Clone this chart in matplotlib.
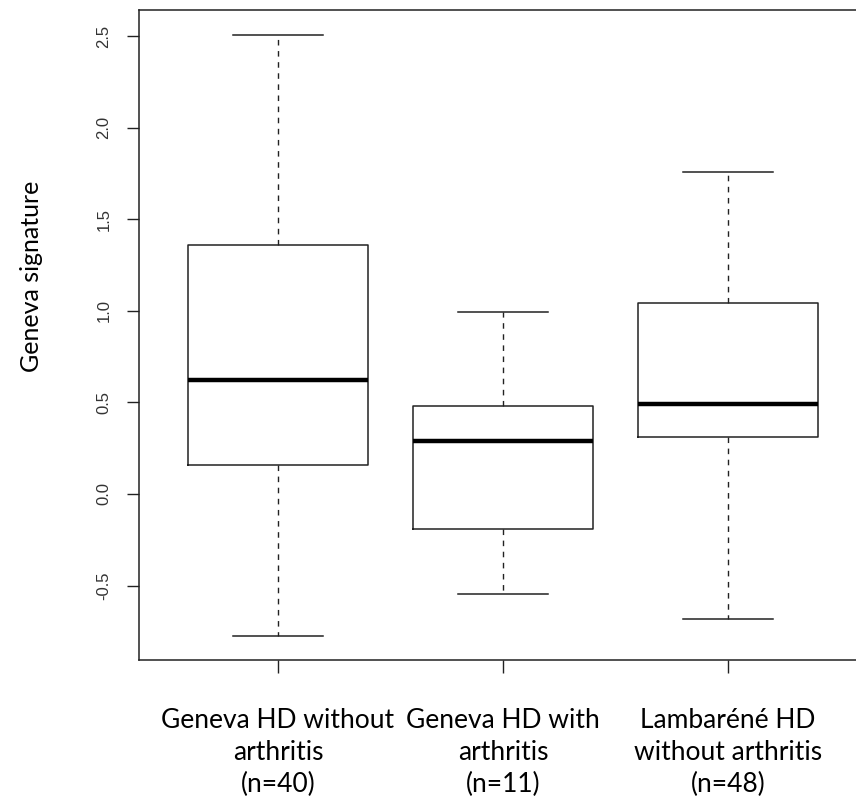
import matplotlib
matplotlib.use("Agg")
import matplotlib.pyplot as plt

# group labels and sizes
groups = ["Geneva HD without\narthritis", "Geneva HD with\narthritis", "Lambaréné HD\nwithout arthritis"]
n_obs = [40, 11, 48]

# five-number summaries
whis_lo = [-0.775, -0.544, -0.681]
q1 = [0.157, -0.191, 0.311]
median = [0.623, 0.288, 0.490]
q3 = [1.361, 0.482, 1.043]
whis_hi = [2.503, 0.992, 1.758]

yticks = [-0.5, 0.0, 0.5, 1.0, 1.5, 2.0, 2.5]

W, H = 856, 801
fig = plt.figure(figsize=(W / 100, H / 100), dpi=100)
# axes reaches past the right edge, as in the cropped original
left, right, top, bottom = 139.3, 866.5, 10.3, 660.3
ax = fig.add_axes([left / W, 1 - bottom / H, (right - left) / W, (bottom - top) / H])

stats = []
for i in range(len(groups)):
    stats.append(dict(whislo=whis_lo[i], q1=q1[i], med=median[i], q3=q3[i],
                      whishi=whis_hi[i], fliers=[]))

line_col = "#222222"
ax.bxp(stats, positions=[1, 2, 3], widths=0.8, capwidths=0.4, showfliers=False,
       boxprops=dict(color=line_col, linewidth=1.1),
       medianprops=dict(color="black", linewidth=3.2, solid_capstyle="butt"),
       whiskerprops=dict(color=line_col, linewidth=1.0, linestyle=(0, (4, 4))),
       capprops=dict(color=line_col, linewidth=1.1))

ax.set_xlim(0.384, 3.616)
ax.set_ylim(-0.908, 2.640)

for s in ax.spines.values():
    s.set_color(line_col)
    s.set_linewidth(1.1)

ax.set_yticks(yticks)
ax.set_yticklabels([f"{v:.1f}" for v in yticks], rotation=90, va="center",
                   fontsize=12, color="#333333", family="Liberation Sans")
ax.tick_params(axis="y", length=9, width=1.0, color=line_col, pad=11)

ax.set_xticks([1, 2, 3])
ax.set_xticklabels([f"{g}\n(n={n})" for g, n in zip(groups, n_obs)],
                   fontsize=19, family="Lato", linespacing=1.36, color="black")
ax.tick_params(axis="x", length=9, width=1.0, color=line_col, pad=25)

fig.text(32 / W, 1 - 276 / H, "Geneva signature", rotation=90, ha="center", va="center",
         fontsize=18, family="Lato")

fig.savefig("out.png", dpi=100)
